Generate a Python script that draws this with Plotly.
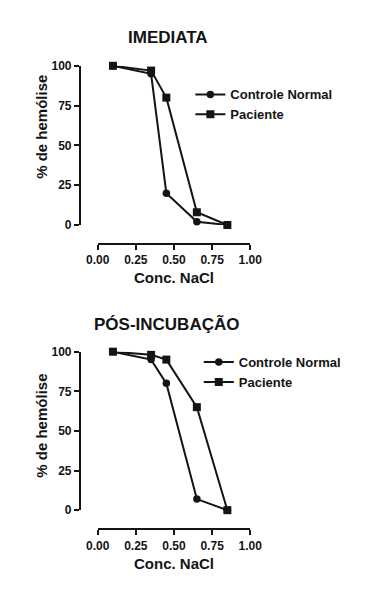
import plotly.graph_objects as go

W, H = 375, 601
OFF = 8  # page body margin

nacl = [0.1, 0.35, 0.45, 0.65, 0.85]
imediata_controle = [100, 95, 20, 2, 0]
imediata_paciente = [100, 97, 80, 8, 0]
pos_controle = [100, 95, 80, 7, 0]
pos_paciente = [100, 98, 95, 65, 0]
x_ticks = [0.0, 0.25, 0.5, 0.75, 1.0]
y_ticks = [0, 25, 50, 75, 100]

FONT = "Liberation Sans, Arial, sans-serif"
INK = "#141414"

def px(x):
    return (x - OFF) / W

def py(y):
    return 1 - (y - OFF) / H

fig = go.Figure()

def add_pair(ctrl, pac, xa, ya, leg):
    fig.add_trace(go.Scatter(x=nacl, y=ctrl, mode="lines+markers", name="Controle Normal",
                             line=dict(color=INK, width=2), marker=dict(symbol="circle", size=7.5, color=INK),
                             xaxis=xa, yaxis=ya, legend=leg, cliponaxis=False))
    fig.add_trace(go.Scatter(x=nacl, y=pac, mode="lines+markers", name="Paciente",
                             line=dict(color=INK, width=2), marker=dict(symbol="square", size=8, color=INK),
                             xaxis=xa, yaxis=ya, legend=leg, cliponaxis=False))

add_pair(imediata_controle, imediata_paciente, "x", "y", "legend")
add_pair(pos_controle, pos_paciente, "x2", "y2", "legend2")

tickfont = dict(family=FONT, size=12, color=INK, weight="bold")
common_x = dict(range=[0, 1], tickvals=x_ticks, tickformat=".2f", showline=True, linecolor=INK, linewidth=2,
                ticks="outside", ticklen=5, tickwidth=2, tickcolor=INK, showgrid=False, zeroline=False,
                tickfont=tickfont, anchor="free", fixedrange=True)
common_y = dict(range=[0, 100], tickvals=y_ticks, showline=True, linecolor=INK, linewidth=2,
                ticks="outside", ticklen=5, tickwidth=2, tickcolor=INK, showgrid=False, zeroline=False,
                tickfont=tickfont, anchor="free", fixedrange=True)

xdom = [px(91), px(254)]
legfont = dict(family=FONT, size=13, color=INK, weight="bold")
fig.update_layout(
    width=W, height=H, margin=dict(l=0, r=0, t=0, b=0), autosize=False,
    paper_bgcolor="white", plot_bgcolor="white",
    xaxis=dict(domain=xdom, position=py(242), **common_x),
    yaxis=dict(domain=[py(223), py(60)], position=px(72), **common_y),
    xaxis2=dict(domain=xdom, position=py(534.5), **common_x),
    yaxis2=dict(domain=[py(515), py(352.7)], position=px(72), **common_y),
    legend=dict(x=px(190), y=py(74), xanchor="left", yanchor="top", itemwidth=30,
                font=legfont, bgcolor="rgba(0,0,0,0)", tracegroupgap=0),
    legend2=dict(x=px(199), y=py(348), xanchor="left", yanchor="top", itemwidth=30,
                 font=legfont, bgcolor="rgba(0,0,0,0)", tracegroupgap=0),
    showlegend=True,
)

def ann(text, x, y, size, angle=0):
    fig.add_annotation(text=text, x=px(x), y=py(y), xref="paper", yref="paper", showarrow=False,
                       xanchor="center", yanchor="middle", textangle=angle,
                       font=dict(family=FONT, size=size, color=INK, weight="bold"))

ann("IMEDIATA", 166, 31, 17)
ann("PÓS-INCUBAÇÃO", 165, 324, 17)
ann("Conc. NaCl", 172, 277, 15)
ann("Conc. NaCl", 172, 570, 15)
ann("% de hemólise", 31, 123, 15, -90)
ann("% de hemólise", 31, 429, 15, -90)

fig.write_html("out.html", config={"displayModeBar": False})
